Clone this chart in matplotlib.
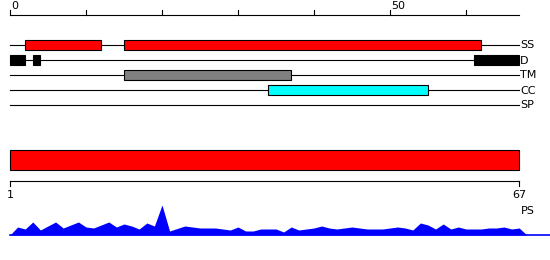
import matplotlib
matplotlib.use("Agg")
import matplotlib.pyplot as plt

# ---- data ----
seq_length = 67
categories = ["SS", "D", "TM", "CC", "SP"]
ss_starts, ss_ends = [2, 15], [12, 62]
d_starts, d_ends = [0, 3, 61], [2, 4, 67]
tm_starts, tm_ends = [15], [37]
cc_starts, cc_ends = [34], [55]
sp_starts, sp_ends = [], []
top_ticks = [0, 10, 20, 30, 40, 50, 60]
top_tick_labels = ["0", "", "", "", "", "50", ""]
bottom_tick_labels = ["1", "67"]
profile_label = "PS"
profile_values = [8, 6, 13, 5, 9, 13, 7, 10, 13, 8, 7, 10, 13, 8, 11, 9, 6,
                  12, 9, 30, 4, 6.5, 9, 8, 7, 7, 7, 6, 5, 8, 4, 4, 6, 6, 6, 3,
                  8, 5, 6, 7, 9, 7, 6, 7, 8, 7, 6, 6, 6, 7, 8, 7, 5, 12, 10, 6,
                  11, 6, 8, 6, 6, 6, 7, 7, 8, 6, 7]

# ---- layout ----
W, H = 550, 260
px = 7.6
x0 = 10
xlim = (-x0 / px, (W - x0) / px)

fig = plt.figure(figsize=(W / 100, H / 100), dpi=100)
ax = fig.add_axes([0, 0, 1, 1])
ax.set_xlim(*xlim)
ax.set_ylim(H, 0)
ax.axis("off")

lw = 0.8
fs = 8

# top ruler
axis_y = 14.5
ax.plot([0, seq_length], [axis_y, axis_y], color="black", lw=lw)
for t, lab in zip(top_ticks, top_tick_labels):
    ax.plot([t, t], [axis_y, axis_y - 5], color="black", lw=lw)
    if lab:
        ax.text(t + 0.1, 6, lab, ha="left", va="center", fontsize=fs,
                family="DejaVu Sans")

rows = {
    "SS": (ss_starts, ss_ends, "#ff0000"),
    "D": (d_starts, d_ends, "#000000"),
    "TM": (tm_starts, tm_ends, "#808080"),
    "CC": (cc_starts, cc_ends, "#00ffff"),
    "SP": (sp_starts, sp_ends, "#ffffff"),
}
row_y0 = 45
row_step = 15
bar_h = 10
for i, cat in enumerate(categories):
    y = row_y0 + i * row_step
    ax.plot([0, seq_length], [y, y], color="black", lw=lw, zorder=1)
    starts, ends, col = rows[cat]
    widths = [e - s for s, e in zip(starts, ends)]
    if starts:
        ax.barh([y] * len(starts), widths, left=starts, height=bar_h,
                color=col, edgecolor="black", linewidth=lw, zorder=2)
    ax.text(seq_length + 0.1, y + 0.5, cat, ha="left", va="center",
            fontsize=fs, family="DejaVu Sans")

# bottom full-length bar
ax.barh([160], [seq_length], left=0, height=20, color="#ff0000",
        edgecolor="black", linewidth=lw)
base_y = 180.5
ax.plot([0, seq_length], [base_y, base_y], color="black", lw=lw)
for t, lab in zip([0, seq_length], bottom_tick_labels):
    ax.plot([t, t], [base_y, base_y + 5], color="black", lw=lw)
    ax.text(t, 195.5, lab, ha="center", va="center", fontsize=fs,
            family="DejaVu Sans")
ax.text(seq_length + 0.2, 211, profile_label, ha="left", va="center",
        fontsize=fs, family="DejaVu Sans")

# profile
pax = fig.add_axes([0, (H - 235) / H, 1, 30 / H])
pax.set_xlim(*xlim)
pax.set_ylim(0, 30)
pax.axis("off")
xs = list(range(0, seq_length + 2))
ys = [0] + profile_values + [0]
pax.fill_between(xs, ys, 0, color="#0000ff", lw=0)
pax.plot([0, xlim[1]], [0, 0], color="#0000ff", lw=1.2, clip_on=False)

fig.savefig("out.png", dpi=100)
